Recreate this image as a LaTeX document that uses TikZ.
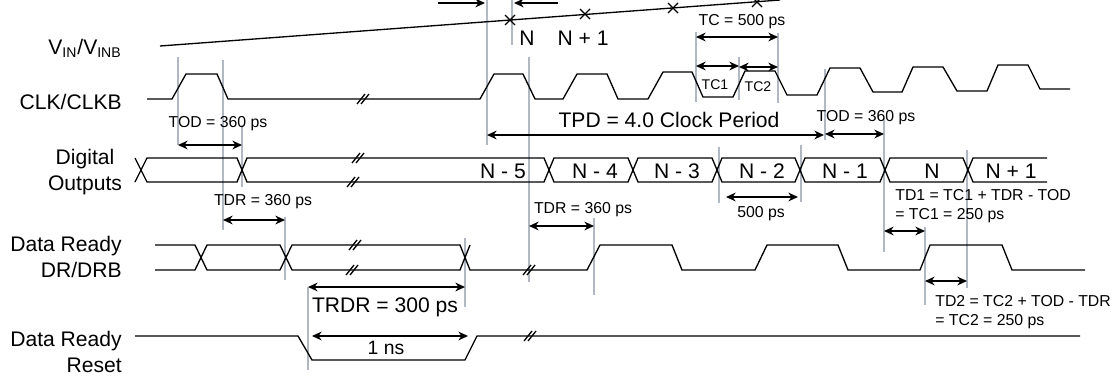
\documentclass[tikz,border=0pt]{standalone}
\usepackage{fontspec}
\setmainfont{Liberation Sans}
\usetikzlibrary{arrows.meta}

\definecolor{guidegray}{RGB}{178,184,194}

\tikzset{
    wave/.style={line width=0.75pt},
    guide/.style={draw=guidegray, line width=0.6pt},
    dimarrow/.style={line width=0.75pt, {Stealth[length=5.5pt,width=5pt]}-{Stealth[length=5.5pt,width=5pt]}},
    onearrow/.style={line width=0.75pt, -{Stealth[length=5.5pt,width=5pt]}},
    sigtext/.style={font=\fontsize{12}{14.4}\selectfont, inner sep=0pt, anchor=east},
    bigtext/.style={font=\fontsize{12}{14.4}\selectfont, inner sep=0pt},
    dimtext/.style={font=\fontsize{9}{10.8}\selectfont, inner sep=0pt},
    breakmark/.pic={\draw[wave] (-6,5) -- (2,-5) (-2,5) -- (6,-5);},
    sample/.pic={\draw[wave] (-5,-5) -- (5,5) (-5,5) -- (5,-5);},
}

\begin{document}
\begin{tikzpicture}[x=0.02cm, y=-0.02cm]

    \clip (0,0) rectangle (1112,379);

    \node
        [ sigtext ] (vin) at (122,48) {V\textsubscript{IN}/V\textsubscript{INB}};

    \node
        [ sigtext ] (clk) at (122,102) {CLK/CLKB};

    \node
        [ sigtext,
            anchor=center,
            align=center,
        ] (dout) at (85,172) {Digital\\Outputs};

    \node
        [ sigtext,
            align=right,
        ] (dr) at (122,257) {Data Ready\\DR/DRB};

    \node
        [ sigtext,
            align=right,
        ] (rst) at (122,352) {Data Ready\\Reset};

    \foreach \x/\a/\b in {178/57/145, 223/60/230, 242/125/187, 285/217/280,
        308/287/370, 465/238/307, 487/0/145, 512/0/45, 529/57/282,
        594/218/295, 696/32/102, 739/57/100, 778/33/103, 719/147/203,
        801/145/202, 825/69/140, 884/118/252, 925/227/305, 967/150/288}
        \draw[guide] (\x,\a) -- (\x,\b);

    \draw[wave] (160,46) -- (780,0);
    \foreach \x/\y in {510/20, 585/14, 673/8, 757/2}
        \pic at (\x,\y) {sample};

    \draw[wave] (147,99) -- (172,99) -- (186,74) -- (217,74) -- (228,99)
        -- (480,99) -- (494,74) -- (523,74) -- (535,99)
        -- (563,99) -- (577,74) -- (607,74) -- (618,99)
        -- (648,99) -- (663,72) -- (692,72) -- (703,97)
        -- (733,97) -- (745,71) -- (775,71) -- (787,95)
        -- (817,95) -- (830,68) -- (860,68) -- (873,92)
        -- (902,92) -- (913,67) -- (943,67) -- (957,91)
        -- (987,91) -- (998,65) -- (1028,65) -- (1040,89) -- (1070,89);
    \pic at (363,99) {breakmark};

    \draw[wave] (135,158) -- (147,182) -- (237,182) -- (247,158) -- (544,158)
        -- (554,182) -- (628,182) -- (638,158) -- (712,158) -- (722,182)
        -- (795,182) -- (805,158) -- (880,158) -- (890,182) -- (963,182)
        -- (973,158) -- (1047,158);
    \draw[wave] (135,182) -- (147,158) -- (237,158) -- (247,182) -- (544,182)
        -- (554,158) -- (628,158) -- (638,182) -- (712,182) -- (722,158)
        -- (795,158) -- (805,182) -- (880,182) -- (890,158) -- (963,158)
        -- (973,182) -- (1047,182);
    \pic at (358,158) {breakmark};
    \pic at (353,182) {breakmark};

    \draw[wave] (155,245) -- (195,245) -- (207,270) -- (280,270) -- (292,245)
        -- (460,245) -- (470,270) -- (587,270) -- (600,245) -- (672,245)
        -- (682,270) -- (755,270) -- (767,245) -- (838,245) -- (848,270)
        -- (920,270) -- (930,245) -- (1002,245) -- (1012,270) -- (1085,270);
    \draw[wave] (155,270) -- (195,270) -- (207,245) -- (280,245) -- (292,270)
        -- (460,270) -- (470,245);
    \pic at (355,245) {breakmark};
    \pic at (352,270) {breakmark};
    \pic at (529,270) {breakmark};

    \draw[wave] (135,336) -- (298,336) -- (312,360) -- (465,360) -- (477,336)
        -- (1080,336);
    \pic at (530,336) {breakmark};

    \draw[onearrow] (438,3) -- (485,3);
    \draw[onearrow] (558,3) -- (514,3);
    \draw[dimarrow] (178,145) -- (242,145);
    \draw[dimarrow] (223,220) -- (285,220);
    \draw[dimarrow] (487,135) -- (824,135);
    \draw[dimarrow] (825,134) -- (884,134);
    \draw[dimarrow] (696,37) -- (778,37);
    \draw[dimarrow] (696,66) -- (739,66);
    \draw[dimarrow] (739,67) -- (778,67);
    \draw[dimarrow] (529,226) -- (594,226);
    \draw[dimarrow] (726,197) -- (798,197);
    \draw[dimarrow] (884,231) -- (925,231);
    \draw[dimarrow] (925,281) -- (967,281);
    \draw[dimarrow] (308,287) -- (465,287);
    \draw[dimarrow] (312,336) -- (468,336);

    \node [bigtext] (nlbl) at (527,38) {N};
    \node [bigtext] (n1lbl) at (583,38) {N + 1};
    \node [dimtext] (tclbl) at (742,22) {TC = 500 ps};
    \node [dimtext, font=\fontsize{8}{9.6}\selectfont] (tc1lbl) at (715,85) {TC1};
    \node [dimtext, font=\fontsize{8}{9.6}\selectfont] (tc2lbl) at (758,87) {TC2};
    \node [dimtext] (tod1lbl) at (218,124) {TOD = 360 ps};
    \node [dimtext] (tdr1lbl) at (263,202) {TDR = 360 ps};
    \node [bigtext] (tpdlbl) at (669,120) {TPD = 4.0 Clock Period};
    \node [dimtext] (tod2lbl) at (866,118) {TOD = 360 ps};
    \node [dimtext] (tdr2lbl) at (583,210) {TDR = 360 ps};
    \node [dimtext] (perlbl) at (761,214) {500 ps};

    \node [bigtext] (d5) at (503,171) {N - 5};
    \node [bigtext] (d4) at (595,171) {N - 4};
    \node [bigtext] (d3) at (677,171) {N - 3};
    \node [bigtext] (d2) at (762,171) {N - 2};
    \node [bigtext] (d1) at (845,171) {N - 1};
    \node [bigtext] (d0) at (932,171) {N};
    \node [bigtext] (dp1) at (1011,171) {N + 1};

    \node
        [ dimtext,
            align=left,
            anchor=west,
        ] (td1lbl) at (895,206) {TD1 = TC1 + TDR - TOD\\= TC1 = 250 ps};

    \node
        [ dimtext,
            align=left,
            anchor=west,
        ] (td2lbl) at (935,312) {TD2 = TC2 + TOD - TDR\\= TC2 = 250 ps};

    \node [bigtext] (trdrlbl) at (385,307) {TRDR = 300 ps};
    \node [bigtext, font=\fontsize{11}{13.2}\selectfont] (nslbl) at (386,348) {1 ns};

\end{tikzpicture}
\end{document}
